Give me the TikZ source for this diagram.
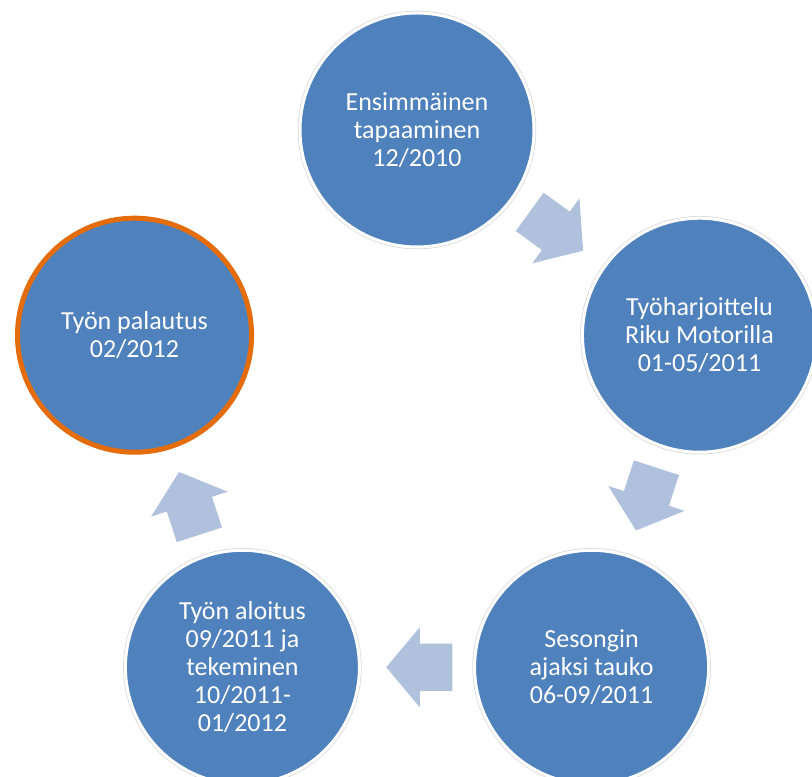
\documentclass[tikz,border=0pt]{standalone}
\usepackage{fontspec}
\setmainfont{Carlito}
\usetikzlibrary{shapes.arrows, calc}
\definecolor{StepBlue}{RGB}{79,129,189}
\definecolor{ArrowBlue}{RGB}{176,193,221}
\definecolor{EndOrange}{RGB}{228,108,10}
\tikzset{
  % vaiheet
  phase/.style={circle,fill=StepBlue,draw=white,line width=3pt,minimum size=234pt,
    inner sep=0pt,align=center,text=white,font=\fontsize{26}{28}\selectfont,
    preaction={draw=black!15,line width=4.5pt}},
  phase last/.style={phase,draw=EndOrange,line width=5pt},
  % nuolet vaiheiden valissa
  flow/.style={single arrow,fill=ArrowBlue,draw=none,inner xsep=0pt,inner ysep=23.5pt,
    minimum height=66pt,single arrow head extend=16.5pt,single arrow tip angle=100,
    anchor=tip}
}
\begin{document}
\begin{tikzpicture}[x=1pt,y=1pt]
    \fill[white] (0,0) rectangle (812,777);
    \useasboundingbox (0,0) rectangle (812,777);
    \coordinate (mid) at (417,350);
    \def\rad{297}
    \def\ahead{31pt}
    % vaiheet
    \node[phase] (meet) at ($(mid)+(90:\rad)$) {Ensimmäinen\\tapaaminen\\12/2010};
    \node[phase] (harj) at ($(mid)+(18:\rad)$) {Työharjoittelu\\Riku Motorilla\\01-05/2011};
    \node[phase] (tauko) at ($(mid)+(-54:\rad)$) {Sesongin\\ajaksi tauko\\06-09/2011};
    \node[phase] (aloitus) at ($(mid)+(-126:\rad)$) {Työn aloitus\\09/2011 ja\\tekeminen\\10/2011-\\01/2012};
    \node[phase last] (palautus) at ($(mid)+(162:\rad)$) {Työn palautus\\02/2012};
    % nuolet
    \node[flow,rotate=-36] (a1) at ($(meet)!0.5!(harj)!\ahead!(harj)$) {};
    \node[flow,rotate=-108] (a2) at ($(harj)!0.5!(tauko)!\ahead!(tauko)$) {};
    \node[flow,rotate=180] (a3) at ($(tauko)!0.5!(aloitus)!\ahead!(aloitus)$) {};
    \node[flow,rotate=108] (a4) at ($(aloitus)!0.5!(palautus)!\ahead!(palautus)$) {};
\end{tikzpicture}
\end{document}
